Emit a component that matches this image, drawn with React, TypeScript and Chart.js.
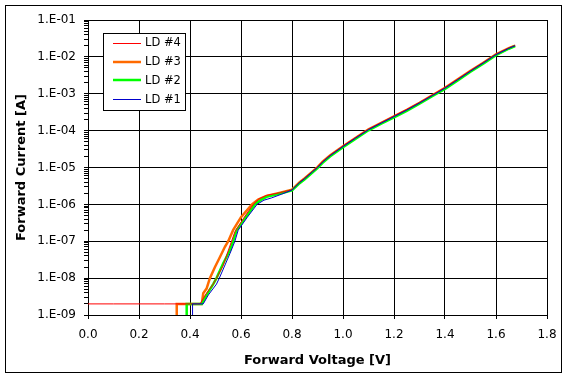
import React, { useEffect, useRef } from 'react';
import { Chart, registerables } from 'chart.js';

Chart.register(...registerables);

// ---- Data ----
const seriesLabels = ['LD #4', 'LD #3', 'LD #2', 'LD #1'];
const seriesColors = ['#ff0000', '#ff6a00', '#00ff00', '#0000cc'];
const seriesWidths = [1, 2.5, 2.5, 1];

// LD #4 (red)
const v4 = [0, 0.1, 0.2, 0.3, 0.4, 0.44, 0.46, 0.478, 0.491, 0.504, 0.53, 0.555, 0.576, 0.61, 0.648, 0.67, 0.7, 0.75, 0.8,
  0.83, 0.85, 0.88, 0.9, 0.92, 0.95, 1.0, 1.05, 1.1, 1.15, 1.2, 1.25, 1.3, 1.35, 1.4, 1.45, 1.5, 1.55, 1.6, 1.65, 1.675];
const i4 = [2e-9, 2e-9, 2e-9, 2e-9, 2e-9, 2e-9, 3.5e-9, 5.2e-9, 6.9e-9, 1e-8, 2.2e-8, 7e-8, 1.8e-7, 4.2e-7, 1e-6, 1.4e-6, 1.75e-6, 2.05e-6, 2.5e-6,
  4.05e-6, 5.2e-6, 7.9e-6, 1.04e-5, 1.46e-5, 2.18e-5, 3.85e-5, 6.55e-5, 1.1e-4, 1.66e-4, 2.5e-4, 3.75e-4, 5.8e-4, 9.25e-4, 1.48e-3, 2.5e-3, 4.25e-3, 7.05e-3, 1.19e-2, 1.75e-2, 2.05e-2];

// LD #3 (orange)
const v3 = [0.347, 0.348, 0.4, 0.446, 0.452, 0.465, 0.478, 0.498, 0.518, 0.537, 0.55, 0.569, 0.6, 0.643, 0.667, 0.7, 0.75, 0.8,
  0.83, 0.85, 0.88, 0.9, 0.92, 0.95, 1.0, 1.05, 1.1, 1.15, 1.2, 1.25, 1.3, 1.35, 1.4, 1.45, 1.5, 1.55, 1.6, 1.65, 1.675];
const i3 = [5e-10, 2e-9, 2e-9, 2e-9, 3.9e-9, 5.2e-9, 1e-8, 2e-8, 3.8e-8, 7.1e-8, 1e-7, 2e-7, 4.5e-7, 1e-6, 1.35e-6, 1.7e-6, 2.05e-6, 2.5e-6,
  3.98e-6, 5.1e-6, 7.75e-6, 1.02e-5, 1.43e-5, 2.14e-5, 3.77e-5, 6.4e-5, 1.08e-4, 1.63e-4, 2.45e-4, 3.67e-4, 5.7e-4, 9.1e-4, 1.45e-3, 2.45e-3, 4.2e-3, 6.95e-3, 1.17e-2, 1.73e-2, 2.02e-2];

// LD #2 (green)
const v2 = [0.386, 0.387, 0.42, 0.446, 0.47, 0.491, 0.504, 0.53, 0.557, 0.569, 0.583, 0.62, 0.655, 0.68, 0.7, 0.75, 0.8,
  0.83, 0.85, 0.88, 0.9, 0.92, 0.95, 1.0, 1.05, 1.1, 1.15, 1.2, 1.25, 1.3, 1.35, 1.4, 1.45, 1.5, 1.55, 1.6, 1.65, 1.675];
const i2 = [5e-10, 2e-9, 2e-9, 2e-9, 4e-9, 6.9e-9, 1e-8, 2.5e-8, 5.8e-8, 1e-7, 2e-7, 4.6e-7, 1e-6, 1.35e-6, 1.6e-6, 1.95e-6, 2.4e-6,
  3.75e-6, 4.8e-6, 7.3e-6, 9.6e-6, 1.34e-5, 2.02e-5, 3.55e-5, 6.05e-5, 1.02e-4, 1.54e-4, 2.3e-4, 3.45e-4, 5.4e-4, 8.55e-4, 1.36e-3, 2.3e-3, 3.95e-3, 6.55e-3, 1.11e-2, 1.66e-2, 1.97e-2];

// LD #1 (blue)
const v1 = [0.409, 0.41, 0.43, 0.452, 0.472, 0.504, 0.515, 0.557, 0.576, 0.589, 0.625, 0.663, 0.69, 0.72, 0.76, 0.8,
  0.83, 0.85, 0.88, 0.9, 0.92, 0.95, 1.0, 1.05, 1.1, 1.15, 1.2, 1.25, 1.3, 1.35, 1.4, 1.45, 1.5, 1.55, 1.6, 1.65, 1.675];
const i1 = [5e-10, 2e-9, 2e-9, 2e-9, 3.5e-9, 6.9e-9, 1e-8, 4.7e-8, 1e-7, 2e-7, 4.5e-7, 1e-6, 1.3e-6, 1.5e-6, 1.9e-6, 2.45e-6,
  3.9e-6, 5.0e-6, 7.6e-6, 1.0e-5, 1.4e-5, 2.1e-5, 3.7e-5, 6.3e-5, 1.06e-4, 1.6e-4, 2.4e-4, 3.6e-4, 5.6e-4, 8.9e-4, 1.42e-3, 2.4e-3, 4.1e-3, 6.8e-3, 1.15e-2, 1.7e-2, 2.0e-2];

const xTickValues = [0, 0.2, 0.4, 0.6, 0.8, 1.0, 1.2, 1.4, 1.6, 1.8];
const xTickLabels = ['0.0', '0.2', '0.4', '0.6', '0.8', '1.0', '1.2', '1.4', '1.6', '1.8'];
const yDecades = [-9, -8, -7, -6, -5, -4, -3, -2, -1];
const yTickLabels = ['1.E-09', '1.E-08', '1.E-07', '1.E-06', '1.E-05', '1.E-04', '1.E-03', '1.E-02', '1.E-01'];

const seriesV = [v4, v3, v2, v1];
const seriesI = [i4, i3, i2, i1];
// drawing order: first = top-most (LD #1, LD #4, LD #2, LD #3)
const drawOrder = [3, 0, 2, 1];

const FONT = '"DejaVu Sans", Verdana, sans-serif';

export default function App() {
  const ref = useRef<HTMLCanvasElement | null>(null);

  useEffect(() => {
    const canvas = ref.current;
    if (!canvas) return;

    const datasets = drawOrder.map((s) => ({
      label: seriesLabels[s],
      data: seriesV[s].map((v, k) => ({ x: v, y: seriesI[s][k] })),
      borderColor: seriesColors[s],
      backgroundColor: seriesColors[s],
      borderWidth: seriesWidths[s],
      showLine: true,
      pointRadius: 0,
      pointHoverRadius: 0,
      tension: 0,
      fill: false,
    }));

    const framePlugin = {
      id: 'frame',
      beforeDraw(chart: any) {
        const ctx = chart.ctx;
        ctx.save();
        ctx.fillStyle = '#ffffff';
        ctx.fillRect(0, 0, chart.width, chart.height);
        ctx.strokeStyle = '#000000';
        ctx.lineWidth = 1;
        ctx.strokeRect(5.5, 5.5, 556, 367);
        ctx.restore();
      },
    };

    const legendPlugin = {
      id: 'boxLegend',
      afterDraw(chart: any) {
        const ctx = chart.ctx;
        ctx.save();
        const bx = 103.5, by = 33.5, bw = 82, bh = 77;
        ctx.fillStyle = '#ffffff';
        ctx.fillRect(bx, by, bw, bh);
        ctx.strokeStyle = '#000000';
        ctx.lineWidth = 1;
        ctx.strokeRect(bx, by, bw, bh);
        ctx.font = `11.5px ${FONT}`;
        ctx.textBaseline = 'middle';
        ctx.textAlign = 'left';
        seriesLabels.forEach((lab, idx) => {
          const y = 43 + idx * 18.7;
          ctx.strokeStyle = seriesColors[idx];
          ctx.lineWidth = seriesWidths[idx] > 1 ? 2.5 : 1;
          ctx.beginPath();
          const yy = seriesWidths[idx] > 1 ? Math.round(y) : Math.round(y) + 0.5;
          ctx.moveTo(113, yy);
          ctx.lineTo(141, yy);
          ctx.stroke();
          ctx.fillStyle = '#000000';
          ctx.fillText(lab, 145, y + 0.5);
        });
        ctx.restore();
      },
    };

    const chart = new Chart(canvas, {
      type: 'scatter',
      data: { datasets },
      plugins: [framePlugin, legendPlugin],
      options: {
        animation: false,
        responsive: false,
        devicePixelRatio: 1,
        layout: { padding: { left: 0, right: 21, top: 20, bottom: 0 } },
        plugins: { legend: { display: false }, tooltip: { enabled: false } },
        scales: {
          x: {
            type: 'linear',
            min: 0,
            max: 1.8,
            afterBuildTicks: (s: any) => {
              s.ticks = xTickValues.map((v) => ({ value: v }));
            },
            afterFit: (s: any) => {
              s.height = 65;
            },
            ticks: {
              autoSkip: false,
              maxRotation: 0,
              padding: 9,
              color: '#000',
              font: { family: FONT, size: 12 },
              callback: (_v: any, i: number) => xTickLabels[i],
            },
            grid: { color: '#000', lineWidth: 1, tickLength: 4, tickColor: '#000' },
            border: { color: '#000', width: 1 },
            title: {
              display: true,
              text: 'Forward Voltage [V]',
              color: '#000',
              font: { family: FONT, size: 13, weight: 'bold' },
              padding: { top: 0, bottom: 12 },
            },
          },
          y: {
            type: 'logarithmic',
            min: 1e-9,
            max: 1e-1,
            afterBuildTicks: (s: any) => {
              const t: any[] = [];
              yDecades.forEach((k, idx) => {
                t.push({ value: Number(`1e${k}`), major: true, txt: yTickLabels[idx] });
                if (k < -1) {
                  for (let m = 2; m <= 9; m++) t.push({ value: Number(`${m}e${k}`), major: false, txt: '' });
                }
              });
              s.ticks = t;
            },
            afterFit: (s: any) => {
              s.width = 88;
            },
            ticks: {
              autoSkip: false,
              padding: 8,
              color: '#000',
              font: { family: FONT, size: 12 },
              callback: (_v: any, i: number, ticks: any[]) => (ticks[i] && ticks[i].txt) || '',
            },
            grid: {
              color: (c: any) => (c.tick && c.tick.major ? '#000' : 'rgba(0,0,0,0)'),
              lineWidth: 1,
              tickLength: 4,
              tickColor: '#000',
            },
            border: { color: '#000', width: 1 },
            title: {
              display: true,
              text: 'Forward Current [A]',
              color: '#000',
              font: { family: FONT, size: 13, weight: 'bold' },
              padding: { top: 14, bottom: 0 },
            },
          },
        },
      } as any,
    });

    return () => chart.destroy();
  }, []);

  return (
    <div style={{ position: 'fixed', left: 0, top: 0, width: 568, height: 380, background: '#fff' }}>
      <canvas ref={ref} width={568} height={380} style={{ display: 'block', width: 568, height: 380 }} />
    </div>
  );
}
